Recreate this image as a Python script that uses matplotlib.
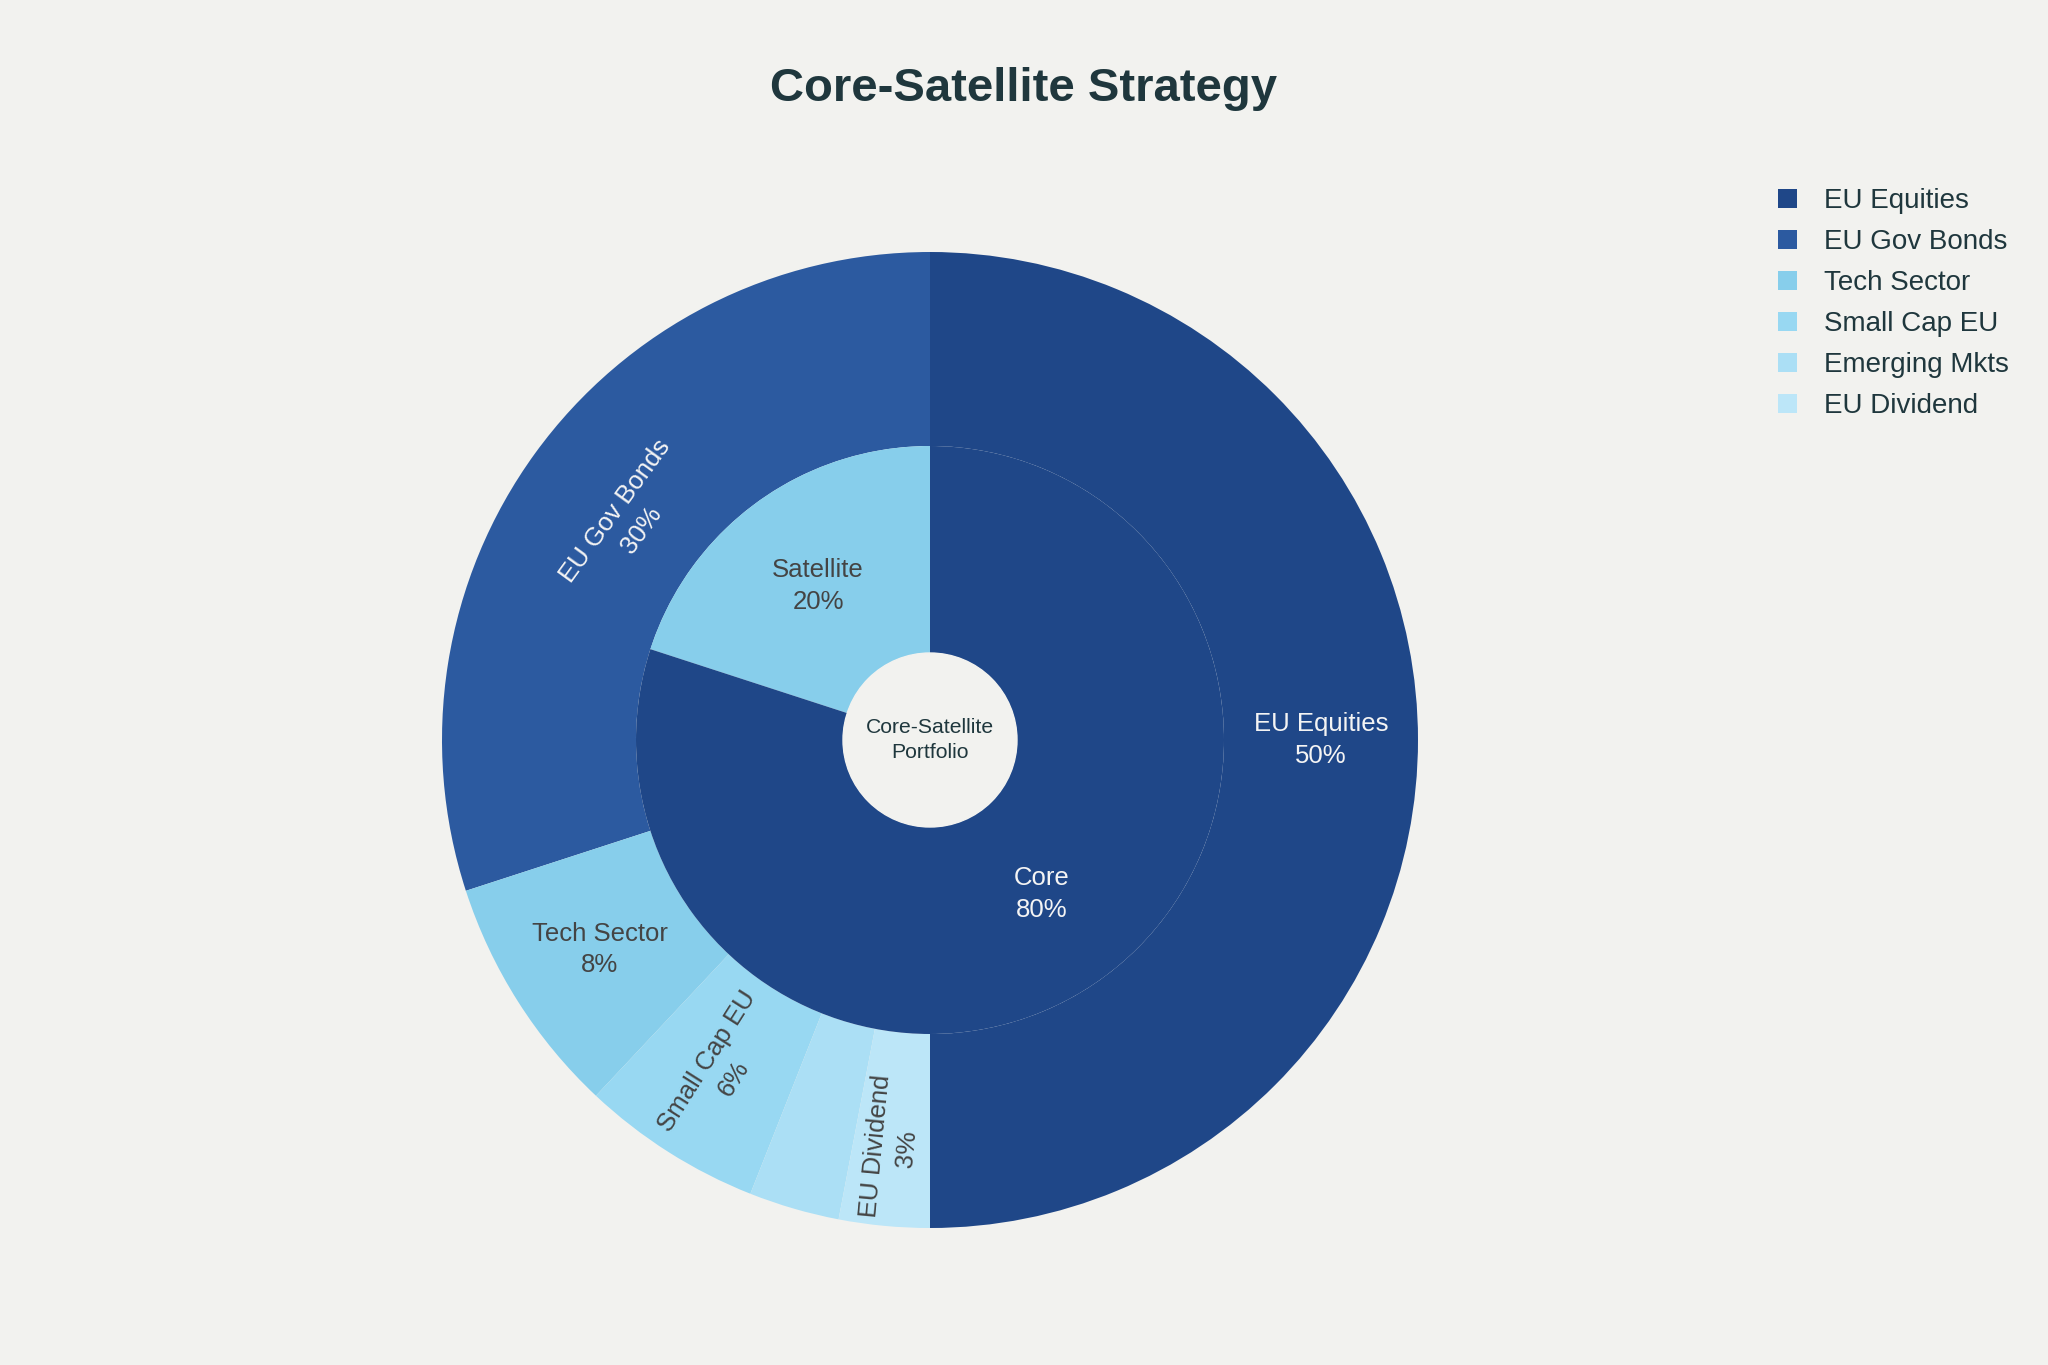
import numpy as np
import matplotlib
matplotlib.use("Agg")
import matplotlib.pyplot as plt

# ---- data ----
outer_labels = ["EU Gov Bonds", "Tech Sector", "Small Cap EU", "Emerging Mkts", "EU Dividend", "EU Equities"]
outer_values = [30, 8, 6, 3, 3, 50]
outer_colors = ["#2c5aa0", "#87ceeb", "#98d8f2", "#abdff5", "#bce6f8", "#1f4788"]
outer_show = [True, True, True, False, True, True]

inner_labels = ["Satellite", "Core"]
inner_values = [20, 80]
inner_colors = ["#87ceeb", "#1f4788"]

legend_order = ["EU Equities", "EU Gov Bonds", "Tech Sector", "Small Cap EU", "Emerging Mkts", "EU Dividend"]

title = "Core-Satellite Strategy"
center_text = "Core-Satellite\nPortfolio"

BG = "#f2f2ef"
DARK = "#1f373d"
FONT = "Liberation Sans"

plt.rcParams['font.family'] = [FONT, 'DejaVu Sans']

W, H = 2048, 1365
fig = plt.figure(figsize=(W / 100, H / 100), dpi=100, facecolor=BG)

cx, cy = 930, 740
half = 500
ax = fig.add_axes([(cx - half) / W, (H - cy - half) / H, 2 * half / W, 2 * half / H])
ax.set_xlim(-half, half)
ax.set_ylim(-half, half)
ax.set_aspect("equal")
ax.axis("off")

R_out, R_mid, R_in = 488, 294, 87

wo, _ = ax.pie(outer_values, colors=outer_colors, startangle=90, counterclock=True,
               radius=R_out, wedgeprops=dict(width=R_out - R_mid, linewidth=0))
wi, _ = ax.pie(inner_values, colors=inner_colors, startangle=90, counterclock=True,
               radius=R_mid, wedgeprops=dict(width=R_mid - R_in, linewidth=0))
ax.set_xlim(-half, half)
ax.set_ylim(-half, half)

def is_dark(c):
    r, g, b = matplotlib.colors.to_rgb(c)
    return (0.299 * r + 0.587 * g + 0.114 * b) < 0.5

# outer labels
orient = {"EU Gov Bonds": "tan", "Tech Sector": "h", "Small Cap EU": "rad",
          "EU Dividend": "rad", "EU Equities": "h"}
rad_off = {"EU Dividend": 18, "EU Gov Bonds": -18}
total = sum(outer_values)
for w, lab, v, c, show in zip(wo, outer_labels, outer_values, outer_colors, outer_show):
    if not show:
        continue
    mid = (w.theta1 + w.theta2) / 2
    r = (R_out + R_mid) / 2 + rad_off.get(lab, 0)
    x, y = r * np.cos(np.radians(mid)), r * np.sin(np.radians(mid))
    o = orient[lab]
    if o == "h":
        rot = 0
    elif o == "tan":
        rot = mid - 90
    else:
        rot = mid - 180
    rot = (rot + 90) % 180 - 90
    ax.text(x, y, f"{lab}\n{v / total * 100:.0f}%", ha="center", va="center",
            rotation=rot, rotation_mode="anchor", fontsize=18.5, linespacing=1.4,
            color="#f4f4f4" if is_dark(c) else "#444444")

itotal = sum(inner_values)
for w, lab, v, c in zip(wi, inner_labels, inner_values, inner_colors):
    mid = (w.theta1 + w.theta2) / 2
    r = (R_mid + R_in) / 2
    x, y = r * np.cos(np.radians(mid)), r * np.sin(np.radians(mid))
    ax.text(x, y, f"{lab}\n{v / itotal * 100:.0f}%", ha="center", va="center",
            fontsize=18.5, linespacing=1.4,
            color="#f4f4f4" if is_dark(c) else "#444444")

ax.add_patch(plt.Circle((0, 0), R_in, color=BG, zorder=3))
ax.text(0, 0, center_text, ha="center", va="center", fontsize=15.2,
        color=DARK, linespacing=1.45, zorder=4)

fig.text(0.5, 1 - 89 / H, title, ha="center", va="center", fontsize=34,
         fontweight="bold", color=DARK)

handle_map = dict(zip(outer_labels, wo))
handles = [plt.Rectangle((0, 0), 1, 1, facecolor=handle_map[l].get_facecolor(), edgecolor="none")
           for l in legend_order]
leg = fig.legend(handles, legend_order, loc="upper left",
                 bbox_to_anchor=(1778 / W, 1 - 188 / H), frameon=False,
                 fontsize=20, handlelength=0.7, handleheight=0.7,
                 handletextpad=0.95, labelspacing=0.54, borderpad=0, borderaxespad=0)
for t in leg.get_texts():
    t.set_color(DARK)

fig.savefig("out.png", dpi=100, facecolor=BG)
